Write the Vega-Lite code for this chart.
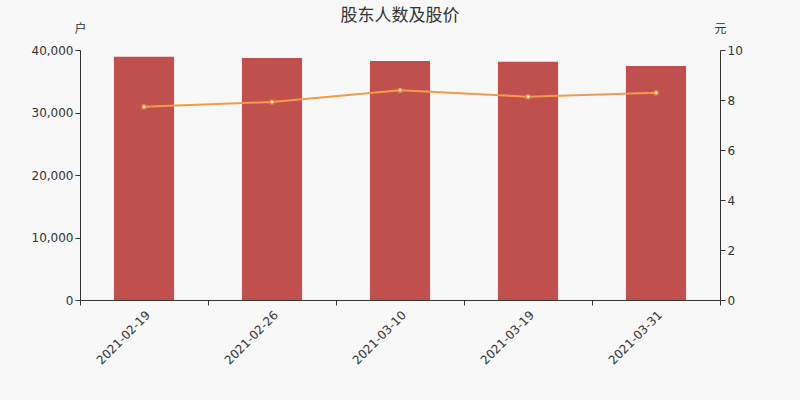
{
  "$schema": "https://vega.github.io/schema/vega-lite/v6.json",
  "width": 640,
  "height": 250,
  "autosize": {"type": "none"},
  "padding": {"left": 80, "top": 50, "right": 80, "bottom": 100},
  "background": "#f8f8f8",
  "title": {
    "text": "股东人数及股价",
    "fontSize": 17,
    "fontWeight": "normal",
    "color": "#333333",
    "font": "Noto Sans CJK SC",
    "offset": -3
  },
  "data": {
    "values": [
      {"date": "2021-02-19", "holders": 38930, "price": 7.73},
      {"date": "2021-02-26", "holders": 38720, "price": 7.92},
      {"date": "2021-03-10", "holders": 38240, "price": 8.39},
      {"date": "2021-03-19", "holders": 38130, "price": 8.13},
      {"date": "2021-03-31", "holders": 37440, "price": 8.29}
    ]
  },
  "config": {
    "view": {"stroke": null},
    "axis": {
      "grid": false,
      "domainColor": "#333333",
      "tickColor": "#333333",
      "labelColor": "#333333",
      "labelFontSize": 12,
      "labelFont": "DejaVu Sans",
      "titleFont": "Noto Sans CJK SC",
      "titleFontSize": 12,
      "titleFontWeight": "normal",
      "titleColor": "#333333"
    }
  },
  "encoding": {
    "x": {
      "field": "date",
      "type": "nominal",
      "scale": {"paddingInner": 0, "paddingOuter": 0},
      "axis": {
        "title": null,
        "labelAngle": -45,
        "tickBand": "extent",
        "tickSize": 5,
        "labelPadding": 4
      }
    }
  },
  "layer": [
    {
      "mark": {"type": "bar", "color": "#c0504d", "width": {"band": 0.47}},
      "encoding": {
        "y": {
          "field": "holders",
          "type": "quantitative",
          "scale": {"domain": [0, 40000]},
          "axis": {
            "title": "户",
            "titleAngle": 0,
            "titleX": 0,
            "titleY": -22,
            "titleAlign": "center",
            "titleBaseline": "middle",
            "values": [0, 10000, 20000, 30000, 40000],
            "format": ",.0f",
            "tickSize": 5
          }
        }
      }
    },
    {
      "mark": {
        "type": "line",
        "color": "#f59a4a",
        "strokeWidth": 2,
        "point": {"filled": true, "fill": "#ffffff", "stroke": "#f59a4a", "strokeWidth": 1.5, "size": 14}
      },
      "encoding": {
        "y": {
          "field": "price",
          "type": "quantitative",
          "scale": {"domain": [0, 10]},
          "axis": {
            "orient": "right",
            "title": "元",
            "titleAngle": 0,
            "titleX": 0,
            "titleY": -22,
            "titleAlign": "center",
            "titleBaseline": "middle",
            "values": [0, 2, 4, 6, 8, 10],
            "tickSize": 5
          }
        }
      }
    }
  ],
  "resolve": {"scale": {"y": "independent"}}
}
